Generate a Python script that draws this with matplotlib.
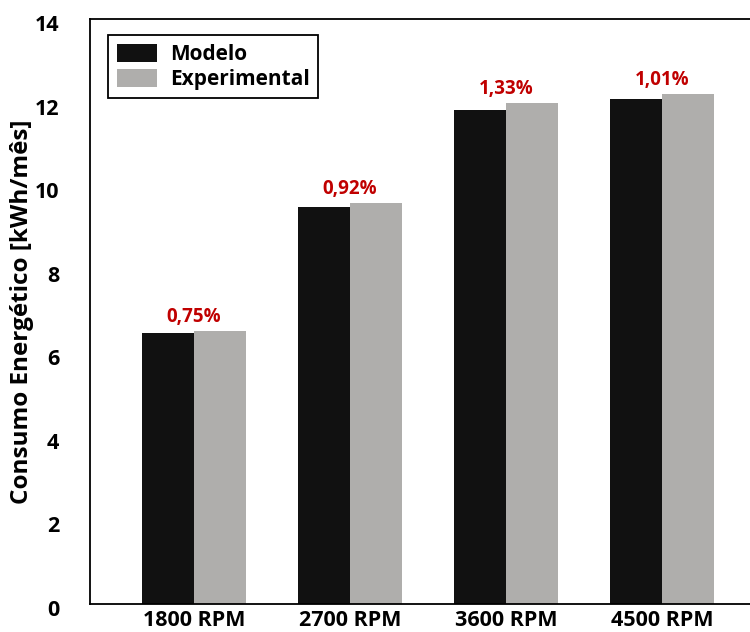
import matplotlib
matplotlib.use('Agg')
import matplotlib.pyplot as plt
import matplotlib.transforms as mtransforms
import numpy as np

rotacoes    = ["1800 RPM", "2700 RPM", "3600 RPM", "4500 RPM"]
modelo      = [6.49, 9.50, 11.82, 12.08]
experimental = [6.54, 9.60, 11.99, 12.20]
erros       = ["0,75%", "0,92%", "1,33%", "1,01%"]

plt.rcParams['font.family'] = ['Open Sans', 'DejaVu Sans']
plt.rcParams['font.weight'] = 'bold'

fig = plt.figure(figsize=(7.5, 6.32), dpi=100)
ax = fig.add_axes([90/750, 1-604/632, 662/750, 585/632])

x = np.arange(len(rotacoes))
w = 1/3
ax.bar(x - w/2, modelo, w, color='#111111', label='Modelo')
ax.bar(x + w/2, experimental, w, color='#afaeac', label='Experimental')

for xi, m, e, txt in zip(x, modelo, experimental, erros):
	ax.text(xi, max(m, e) + 0.1, txt, ha='center', va='bottom', color='#c00000',
		fontsize=13.5, fontweight='bold')

ax.set_xlim(-0.667, 3.577)
ax.set_ylim(0, 14)
ax.set_yticks(range(0, 15, 2))
ax.set_xticks(x)
ax.set_xticklabels(rotacoes)
ax.tick_params(axis='both', length=0, labelsize=15.5)
ax.tick_params(axis='y', pad=22)
ax.tick_params(axis='x', pad=4)
# y labels sit a little below their gridline in the original
shift = mtransforms.ScaledTranslation(0, -4/100, fig.dpi_scale_trans)
for lbl in ax.get_yticklabels():
	lbl.set_transform(lbl.get_transform() + shift)
for lbl in ax.get_xticklabels() + ax.get_yticklabels():
	lbl.set_fontweight('bold')
for s in ax.spines.values():
	s.set_linewidth(1.3)
ax.set_ylabel('Consumo Energético [kWh/mês]', fontsize=17.5, fontweight='bold')
ax.yaxis.set_label_coords(-0.084, 0.5)

leg = ax.legend(loc='upper left', bbox_to_anchor=(0.012, 0.99), fancybox=False,
	edgecolor='black', framealpha=1, prop={'weight': 'bold', 'size': 15},
	handlelength=1.95, handleheight=0.95, handletextpad=0.6, labelspacing=0.2,
	borderpad=0.4)
leg.get_frame().set_linewidth(1.3)

fig.savefig('out.png', dpi=100)
